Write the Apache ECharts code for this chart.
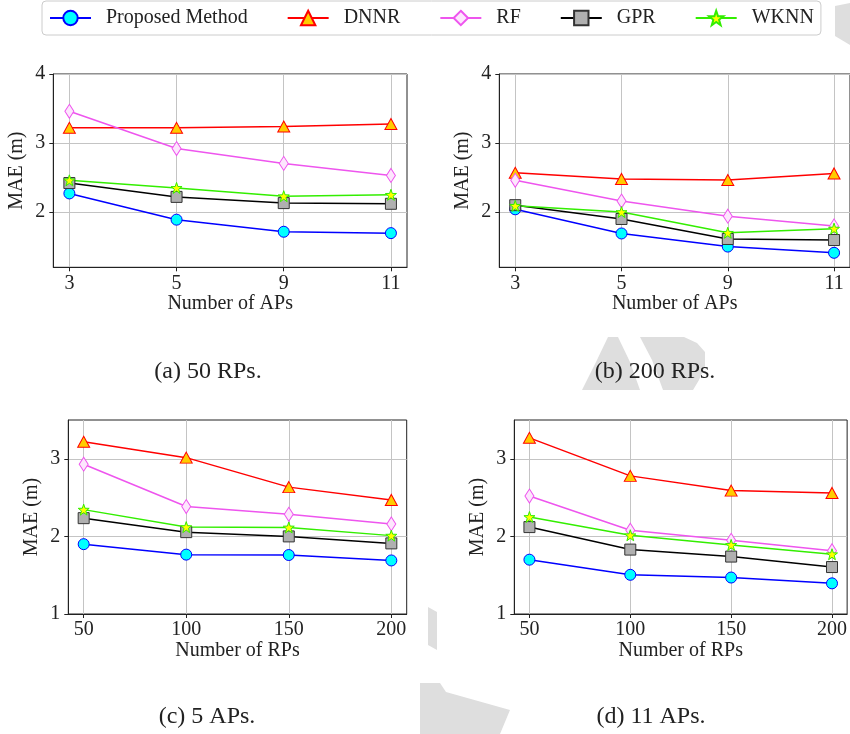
<!DOCTYPE html>
<html>
<head>
<meta charset="utf-8">
<script src="https://cdn.jsdelivr.net/npm/echarts@6/dist/echarts.min.js"></script>
<style>
  html, body { margin: 0; padding: 0; background: #fff; }
  #chart { width: 850px; height: 734px; }
</style>
</head>
<body>
<div id="chart"></div>
<script>
// x categories
const apLabels = ['3', '5', '9', '11']
const rpValues = [50, 100, 150, 200]
const methods = ['Proposed Method', 'DNNR', 'RF', 'GPR', 'WKNN']

// (a) 50 RPs, MAE vs number of APs
const rp50Proposed = [2.27, 1.89, 1.715, 1.695]
const rp50Dnnr = [3.22, 3.22, 3.24, 3.275]
const rp50Rf = [3.46, 2.92, 2.705, 2.53]
const rp50Gpr = [2.42, 2.22, 2.13, 2.12]
const rp50Wknn = [2.46, 2.35, 2.23, 2.25]

// (b) 200 RPs
const rp200Proposed = [2.04, 1.69, 1.50, 1.41]
const rp200Dnnr = [2.57, 2.48, 2.465, 2.56]
const rp200Rf = [2.46, 2.16, 1.94, 1.80]
const rp200Gpr = [2.10, 1.90, 1.61, 1.595]
const rp200Wknn = [2.09, 2.00, 1.70, 1.76]

// (c) 5 APs, MAE vs number of RPs
const ap5Proposed = [1.90, 1.765, 1.76, 1.69]
const ap5Dnnr = [3.22, 3.015, 2.635, 2.47]
const ap5Rf = [2.93, 2.385, 2.285, 2.16]
const ap5Gpr = [2.235, 2.055, 2.00, 1.91]
const ap5Wknn = [2.345, 2.12, 2.115, 2.01]

// (d) 11 APs
const ap11Proposed = [1.70, 1.505, 1.47, 1.395]
const ap11Dnnr = [3.27, 2.78, 2.59, 2.56]
const ap11Rf = [2.52, 2.08, 1.95, 1.815]
const ap11Gpr = [2.12, 1.83, 1.74, 1.605]
const ap11Wknn = [2.25, 2.015, 1.89, 1.77]

const yTicksTop = [2, 3, 4]
const yTicksBottom = [1, 2, 3]
const captions = ['(a) 50 RPs.', '(b) 200 RPs.', '(c) 5 APs.', '(d) 11 APs.']

const font = "'Liberation Serif', 'DejaVu Serif', serif"
const ink = '#222'

const star = 'path://M0,-10 L2.35,-3.24 L9.51,-3.09 L3.8,1.24 L5.88,8.09 L0,4 L-5.88,8.09 L-3.8,1.24 L-9.51,-3.09 L-2.35,-3.24 Z'

const looks = {
  'Proposed Method': { line: '#0000ff', fill: '#00ffff', edge: '#0000ff', symbol: 'circle', size: 11 },
  DNNR: { line: '#ff0000', fill: '#ffcc00', edge: '#ff0000', symbol: 'triangle', size: [12, 11] },
  RF: { line: '#ee55ee', fill: '#fde6fd', edge: '#ee55ee', symbol: 'diamond', size: [9, 14] },
  GPR: { line: '#000000', fill: '#b0b0b0', edge: '#333333', symbol: 'rect', size: 11 },
  WKNN: { line: '#33ee00', fill: '#ffff00', edge: '#33ee00', symbol: star, size: 11 },
}

const grids = [
  { left: 53.3, top: 74, width: 353.7, height: 193.3 },
  { left: 499.3, top: 74, width: 353.7, height: 193.3 },
  { left: 68.3, top: 420, width: 338.4, height: 194 },
  { left: 514.3, top: 420, width: 338.4, height: 194 },
]

const panels = [
  { x: apLabels.map((_, i) => i), data: [rp50Proposed, rp50Dnnr, rp50Rf, rp50Gpr, rp50Wknn] },
  { x: apLabels.map((_, i) => i), data: [rp200Proposed, rp200Dnnr, rp200Rf, rp200Gpr, rp200Wknn] },
  { x: rpValues, data: [ap5Proposed, ap5Dnnr, ap5Rf, ap5Gpr, ap5Wknn] },
  { x: rpValues, data: [ap11Proposed, ap11Dnnr, ap11Rf, ap11Gpr, ap11Wknn] },
]

const labelStyle = { color: ink, fontFamily: font, fontSize: 20 }
const gridLine = { show: true, lineStyle: { color: '#c4c4c4', width: 1 } }
const tickStyle = { show: true, inside: false, length: 4, lineStyle: { color: ink, width: 1 } }

const xAxes = grids.map((_, i) => {
  const isAp = i < 2
  const ticks = isAp ? [0, 1, 2, 3] : rpValues
  return {
    type: 'value',
    gridIndex: i,
    min: isAp ? -0.15 : 42.5,
    max: isAp ? 3.15 : 207.5,
    name: isAp ? 'Number of APs' : 'Number of RPs',
    nameLocation: 'middle',
    nameGap: 26,
    nameTextStyle: labelStyle,
    axisLine: { show: true, onZero: false, lineStyle: { color: ink, width: 1 } },
    axisTick: { ...tickStyle, customValues: ticks },
    axisLabel: {
      ...labelStyle,
      margin: 6,
      customValues: ticks,
      formatter: v => isAp ? apLabels[Math.round(v)] : String(v),
    },
    splitLine: gridLine,
  }
})

const yAxes = grids.map((_, i) => {
  const isTop = i < 2
  const ticks = isTop ? yTicksTop : yTicksBottom
  return {
    type: 'value',
    gridIndex: i,
    min: isTop ? 1.2 : 1,
    max: isTop ? 4 : 3.5,
    name: 'MAE (m)',
    nameLocation: 'middle',
    nameGap: 27,
    nameTextStyle: labelStyle,
    axisLine: { show: true, onZero: false, lineStyle: { color: ink, width: 1 } },
    axisTick: { ...tickStyle, customValues: ticks },
    axisLabel: { ...labelStyle, margin: 8, customValues: ticks, formatter: v => String(v) },
    splitLine: gridLine,
  }
})

const series = []
panels.forEach((p, gi) => {
  methods.forEach((m, mi) => {
    const look = looks[m]
    series.push({
      name: m,
      type: 'line',
      xAxisIndex: gi,
      yAxisIndex: gi,
      data: p.data[mi].map((v, k) => [p.x[k], v]),
      symbol: look.symbol,
      symbolSize: look.size,
      showSymbol: true,
      animation: false,
      lineStyle: { color: look.line, width: 1.5 },
      itemStyle: { color: look.fill, borderColor: look.edge, borderWidth: 1 },
      emphasis: { disabled: true },
    })
  })
})

// light grey watermark fragments showing between the panels
const mark = '#dedede'
const watermark = [
  { type: 'polygon', shape: { points: [[582, 390], [596, 362], [608, 337], [684, 337], [697, 343], [705, 352], [705, 366], [699, 380], [693, 390]] }, style: { fill: mark } },
  { type: 'polygon', shape: { points: [[618, 337], [640, 337], [652, 360], [663, 390], [640, 390], [630, 362]] }, style: { fill: '#fff' } },
  { type: 'polygon', shape: { points: [[428, 607], [437, 612], [437, 650], [428, 645]] }, style: { fill: mark } },
  { type: 'polygon', shape: { points: [[420, 683], [440, 683], [446, 692], [510, 710], [500, 734], [420, 734]] }, style: { fill: mark } },
  { type: 'polygon', shape: { points: [[835, 6], [850, 3], [850, 45], [835, 36]] }, style: { fill: mark } },
].map(g => ({ ...g, z: -10, silent: true }))

const captionPos = [[208, 372], [655, 372], [207, 717], [651, 717]]
const captionText = captions.map((t, i) => ({
  type: 'text',
  x: captionPos[i][0],
  y: captionPos[i][1],
  style: {
    text: t, fill: ink, font: `24px ${font}`,
    align: 'center', verticalAlign: 'middle', textAlign: 'center', textVerticalAlign: 'middle',
  },
}))

const chart = echarts.init(document.getElementById('chart'), null, { renderer: 'canvas' })
chart.setOption({
  animation: false,
  backgroundColor: '#fff',
  grid: grids.map(g => ({ ...g, show: true, borderColor: ink, borderWidth: 1, backgroundColor: '#fff', containLabel: false })),
  legend: {
    data: methods,
    left: 42,
    top: 1,
    itemWidth: 41,
    itemHeight: 18,
    itemGap: 39,
    padding: [7, 7],
    backgroundColor: '#fff',
    borderColor: '#cccccc',
    borderWidth: 1,
    borderRadius: 4,
    textStyle: { color: ink, fontFamily: font, fontSize: 20, padding: [0, 0, 0, 10] },
  },
  xAxis: xAxes,
  yAxis: yAxes,
  series,
  graphic: [...watermark, ...captionText],
})
</script>
</body>
</html>
